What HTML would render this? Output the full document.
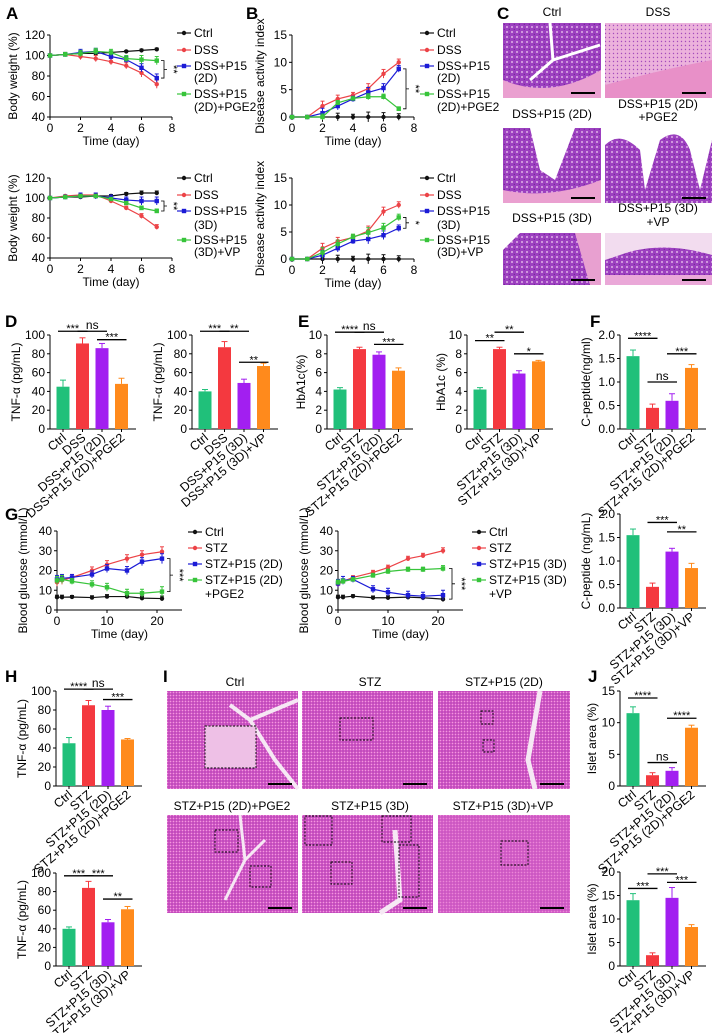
<!DOCTYPE html>
<html><head><meta charset="utf-8"><style>
html,body{margin:0;padding:0;background:#fff}
svg{display:block;font-family:"Liberation Sans",Arial,sans-serif}
</style></head><body>
<svg id="fig" width="715" height="1033" viewBox="0 0 715 1033" xmlns="http://www.w3.org/2000/svg">
<defs>
<pattern id="panc" width="3" height="3" patternUnits="userSpaceOnUse"><rect width="3" height="3" fill="#d65ac6"/><circle cx="1" cy="1" r="0.6" fill="#8a2ca8"/><rect x="2" y="2" width="1" height="1" fill="#ec9ee0"/></pattern>
<pattern id="colon" width="5" height="5" patternUnits="userSpaceOnUse"><rect width="5" height="5" fill="#9c40c0"/><circle cx="2" cy="2" r="1" fill="#e0b0e6"/><circle cx="4.3" cy="4.3" r="0.6" fill="#6a2090"/></pattern>
<pattern id="inflam" width="4" height="4" patternUnits="userSpaceOnUse"><rect width="4" height="4" fill="#ecb2dc"/><circle cx="1.5" cy="1.5" r="0.7" fill="#a54cbc"/></pattern>
</defs>
<g id="root"></g>
</svg>
<script>
// ===== Panel A data =====
const daysA = [0,1,2,3,4,5,6,7];
const a1Ctrl = [100,101,102,102,103,104,105,106];
const a1DSS = [100,101,99,97,94,90,83,72];
const a1P2D = [100,101,103,104,99,96,88,78];
const a1PGE2 = [100,101,102,104,103,97,96,95];
const a2Ctrl = [100,101,101,102,102,104,105,105];
const a2DSS = [100,102,103,103,97,90,82,71];
const a2P3D = [100,101,102,102,100,98,97,97];
const a2VP = [100,101,102,102,99,95,90,87];
const aErr = [1,2,3,3,3,3,4,4];
// ===== Panel B data =====
const b1Ctrl = [0,0,0,0,0,0,0,0];
const b1DSS = [0,0,2,3.3,4,5.2,7.9,10];
const b1P2D = [0,0,0.7,2,3.3,4.5,5.3,8.8];
const b1PGE2 = [0,0,0,2.6,3.4,3.7,3.7,1.5];
const b2Ctrl = [0,0,0,0,0,0,0,0];
const b2DSS = [0,0,2,3.3,4,5.2,8.8,10];
const b2P3D = [0,0,0.7,2,3.3,3.7,4.4,5.7];
const b2VP = [0,0,1.2,2.8,4.1,4.9,5.8,7.7];
const bErr = [0,0,0.9,0.7,0.5,0.9,0.8,0.6];
// ===== Panel G data =====
const daysG = [0,1,3,7,10,14,17,21];
const g1Ctrl = [6.5,6.5,6.6,6.3,6.8,6.8,6,5.8];
const g1STZ = [14,15,16.5,20,23,26,28,29.5];
const g1P2D = [15.5,16,16.5,18,21,20,24.5,26];
const g1PGE2 = [15,15.5,14.5,13,11.5,8.5,8.5,9.3];
const g2Ctrl = [6.5,6.5,7,6.2,6.2,6.5,6.2,5.5];
const g2STZ = [13,14.5,16.5,19,21.5,26,27.5,30];
const g2P3D = [13.5,15,15.5,10.5,9,7.5,7,7.5];
const g2VP = [14,14.5,15.5,17.5,19.5,20.5,20.5,21];
const gErr = [2,2,1.5,1.8,2,2,2,2.5];
// ===== Bar data =====
const d1Vals = [45,91,86,48], d1Err = [7,6,5,6];
const d2Vals = [40,87,49,67], d2Err = [2,6,4,3];
const e1Vals = [4.2,8.5,7.9,6.2], e1Err = [0.2,0.2,0.3,0.3];
const e2Vals = [4.2,8.5,5.9,7.2], e2Err = [0.2,0.2,0.3,0.1];
const f1Vals = [1.55,0.45,0.6,1.3], f1Err = [0.13,0.08,0.15,0.07];
const f2Vals = [1.55,0.45,1.2,0.85], f2Err = [0.13,0.08,0.07,0.1];
const h1Vals = [45,85,80,49], h1Err = [6,5,4,1];
const h2Vals = [40,84,47,61], h2Err = [2,7,3,3];
const j1Vals = [11.5,1.7,2.4,9.2], j1Err = [1,0.4,0.5,0.4];
const j2Vals = [14,2.3,14.5,8.3], j2Err = [1.4,0.5,2.2,0.5];
const dssLab2D = ["Ctrl","DSS","DSS+P15 (2D)","DSS+P15 (2D)+PGE2"];
const dssLab3D = ["Ctrl","DSS","DSS+P15 (3D)","DSS+P15 (3D)+VP"];
const stzLab2D = ["Ctrl","STZ","STZ+P15 (2D)","STZ+P15 (2D)+PGE2"];
const stzLab3D = ["Ctrl","STZ","STZ+P15 (3D)","STZ+P15 (3D)+VP"];
const ticks100 = [0,20,40,60,80,100];
const ticks10 = [0,2,4,6,8,10];
const ticks2 = ["0.0","0.5","1.0","1.5","2.0"];
const ticks15 = [0,5,10,15];
const ticks20 = [0,5,10,15,20];
const ticksBW = [40,60,80,100,120];
const ticksDAI = [0,5,10,15];
const ticksDay8 = [0,2,4,6,8];
const ticksGlu = [0,10,20,30,40];
const ticksDay21 = [0,10,20];

const NS="http://www.w3.org/2000/svg";
const root=document.getElementById('root');
function el(tag,attrs,parent,txt){const e=document.createElementNS(NS,tag);for(const k in attrs)e.setAttribute(k,attrs[k]);if(txt!==undefined)e.textContent=txt;(parent||root).appendChild(e);return e;}
const BARC=["#20c07a","#f4393f","#a21ff0","#ff8a1c"];
const LC={k:"#111",r:"#ec4347",b:"#1b1bd6",g:"#37c43a"};

function letter(t,x,y){const e=el('text',{x:x,y:y,'font-size':17,'font-weight':'bold',fill:'#000'},root,t);

}

function lineChart(c){
 const g=el('g',{});
 
 
 const sx=v=>c.x0+(v-c.xmin)/(c.xmax-c.xmin)*(c.x1-c.x0);
 const sy=v=>c.yb-(v-c.ymin)/(c.ymax-c.ymin)*(c.yb-c.yt);
 el('line',{x1:c.x0,y1:c.yb,x2:c.x1,y2:c.yb,stroke:'#000','stroke-width':1},g);
 el('line',{x1:c.x0,y1:c.yb,x2:c.x0,y2:c.yt,stroke:'#000','stroke-width':1},g);
 c.yticks.forEach(t=>{const y=sy(t);el('line',{x1:c.x0-3,y1:y,x2:c.x0,y2:y,stroke:'#000'},g);
  const tl=el('text',{x:c.x0-5,y:y+4,'font-size':12,'text-anchor':'end'},g,t);
  });
 c.xticks.forEach(t=>{const x=sx(t);el('line',{x1:x,y1:c.yb,x2:x,y2:c.yb+3,stroke:'#000'},g);
  const tl=el('text',{x:x,y:c.yb+15,'font-size':12,'text-anchor':'middle'},g,t);
  });
 const xt=el('text',{x:(c.x0+c.x1)/2,y:c.yb+28,'font-size':12,'text-anchor':'middle'},g,'Time (day)');
 
 const ym=(c.yb+c.yt)/2, yx=c.x0-c.ytOff;
 const yt=el('text',{x:yx,y:ym,'font-size':12,'text-anchor':'middle',transform:`rotate(-90 ${yx} ${ym})`},g,c.ytitle);
 
 c.series.forEach((s,si)=>{
  const pts=c.xs.map((x,i)=>sx(x)+','+sy(s.v[i])).join(' ');
  const pl=el('polyline',{points:pts,fill:'none',stroke:s.c,'stroke-width':1.2},g);
  
  c.xs.forEach((x,i)=>{const e=c.err[i]*(s.ef||1);const X=sx(x);
   if(e>0){el('line',{x1:X,y1:sy(s.v[i]-e),x2:X,y2:sy(s.v[i]+e),stroke:s.c,'stroke-width':1},g);
    el('line',{x1:X-2,y1:sy(s.v[i]+e),x2:X+2,y2:sy(s.v[i]+e),stroke:s.c},g);}
   const m=s.sq?el('rect',{x:X-2.2,y:sy(s.v[i])-2.2,width:4.4,height:4.4,fill:s.c},g):el('circle',{cx:X,cy:sy(s.v[i]),r:2.2,fill:s.c},g);
   });
 });
 c.legend.forEach((L,i)=>{
  const y=c.ly[i];
  if(L.c){el('line',{x1:c.lx,y1:y,x2:c.lx+14,y2:y,stroke:L.c,'stroke-width':1.2},g);
   if(L.sq)el('rect',{x:c.lx+4.8,y:y-2.2,width:4.4,height:4.4,fill:L.c},g);else el('circle',{cx:c.lx+7,cy:y,r:2.2,fill:L.c},g);}
  const lt=el('text',{x:c.lx+17,y:y+4,'font-size':12},g,L.t);
  
 });
 if(c.br){const b=c.br, y1=sy(b.a), y2=sy(b.b), x=b.x;
  el('path',{d:`M${x-3},${y1} L${x},${y1} L${x},${y2} L${x-3},${y2} M${x},${(y1+y2)/2} L${x+3},${(y1+y2)/2}`,fill:'none',stroke:'#000','stroke-width':0.8},g);
  const my=(y1+y2)/2;
  const st=el('text',{x:x+6,y:my,'font-size':11,'text-anchor':'middle',transform:`rotate(90 ${x+6} ${my})`},g,b.t);
  }
}

function barChart(c){
 const g=el('g',{});
 
 
 const sy=v=>c.yb-v/c.ymax*(c.yb-c.yt);
 const bx=i=>c.x0+13+i*19.5;
 el('line',{x1:c.x0,y1:c.yb,x2:c.x0+86,y2:c.yb,stroke:'#000'},g);
 el('line',{x1:c.x0,y1:c.yb,x2:c.x0,y2:c.yt,stroke:'#000'},g);
 c.yticks.forEach(t=>{const y=sy(parseFloat(t));el('line',{x1:c.x0-3,y1:y,x2:c.x0,y2:y,stroke:'#000'},g);
  const tl=el('text',{x:c.x0-5,y:y+4,'font-size':12,'text-anchor':'end'},g,t);
  });
 const ym=(c.yb+c.yt)/2,yx=c.x0-c.ytOff;
 const yt=el('text',{x:yx,y:ym,'font-size':12,'text-anchor':'middle',transform:`rotate(-90 ${yx} ${ym})`},g,c.ytitle);
 
 c.vals.forEach((v,i)=>{const X=bx(i);
  const r=el('rect',{x:X-6.5,y:sy(v),width:13,height:c.yb-sy(v),fill:BARC[i]},g);
  
  
  const ey=sy(v+c.err[i]);
  el('line',{x1:X,y1:sy(v),x2:X,y2:ey,stroke:BARC[i],'stroke-width':1},g);
  el('line',{x1:X-3,y1:ey,x2:X+3,y2:ey,stroke:BARC[i],'stroke-width':1},g);
  el('line',{x1:X,y1:c.yb,x2:X,y2:c.yb+3,stroke:'#000'},g);
  const lx=X+4,ly=c.yb+10;
  const t=el('text',{x:lx,y:ly,'font-size':12.5,'text-anchor':'end',transform:`rotate(-40 ${lx} ${ly})`},g,c.labels[i]);
  
 });
 c.sig.forEach(s=>{const y=sy(s[3]);const xa=bx(s[0])-5,xb=bx(s[1])+5;
  el('line',{x1:xa,y1:y,x2:xb,y2:y,stroke:'#000','stroke-width':1.3},g);
  const t=el('text',{x:(xa+xb)/2,y:s[2]=='ns'?y-2:y+1,'font-size':s[2]=='ns'?12:11,'text-anchor':'middle'},g,s[2]);
  });
}

letter('A',6,19);letter('B',246,19);letter('C',497,19);letter('D',5,327);letter('E',298,327);
letter('F',590,327);letter('G',5,520);letter('H',5,682);letter('I',163,682);letter('J',588,682);

const legA1=[{t:'Ctrl',c:LC.k},{t:'DSS',c:LC.r},{t:'DSS+P15',c:LC.b,sq:1},{t:'(2D)'},{t:'DSS+P15',c:LC.g,sq:1},{t:'(2D)+PGE2'}];
const legA2=[{t:'Ctrl',c:LC.k},{t:'DSS',c:LC.r},{t:'DSS+P15',c:LC.b,sq:1},{t:'(3D)'},{t:'DSS+P15',c:LC.g,sq:1},{t:'(3D)+VP'}];
const lyTop=[33,50,66,78,94,107], lyBot=[178,195,211,225,240,252];
lineChart({name:'body-weight-chart-2d',x0:50,x1:172,xmin:0,xmax:8,yb:117,yt:35,ymin:40,ymax:120,xticks:ticksDay8,yticks:ticksBW,xs:daysA,err:aErr,ytitle:'Body weight (%)',ytOff:33,
 series:[{n:'ctrl',v:a1Ctrl,c:LC.k,ef:0.3},{n:'dss',v:a1DSS,c:LC.r},{n:'dss-p15-2d',v:a1P2D,c:LC.b,sq:1},{n:'dss-p15-2d-pge2',v:a1PGE2,c:LC.g,sq:1}],
 legend:legA1,lx:177,ly:lyTop,br:{a:95,b:78,x:164,t:'**'}});
lineChart({name:'body-weight-chart-3d',x0:50,x1:172,xmin:0,xmax:8,yb:258,yt:178,ymin:40,ymax:120,xticks:ticksDay8,yticks:ticksBW,xs:daysA,err:aErr,ytitle:'Body weight (%)',ytOff:33,
 series:[{n:'ctrl',v:a2Ctrl,c:LC.k,ef:0.5},{n:'dss',v:a2DSS,c:LC.r,ef:0.6},{n:'dss-p15-3d',v:a2P3D,c:LC.b,sq:1},{n:'dss-p15-3d-vp',v:a2VP,c:LC.g,sq:1,ef:0.5}],
 legend:legA2,lx:177,ly:lyBot,br:{a:97,b:87,x:164,t:'**'}});
lineChart({name:'dai-chart-2d',x0:292,x1:414,xmin:0,xmax:8,yb:117,yt:35,ymin:0,ymax:15,xticks:ticksDay8,yticks:ticksDAI,xs:daysA,err:bErr,ytitle:'Disease activity index',ytOff:28,
 series:[{n:'ctrl',v:b1Ctrl,c:LC.k,ef:0},{n:'dss',v:b1DSS,c:LC.r},{n:'dss-p15-2d',v:b1P2D,c:LC.b,sq:1},{n:'dss-p15-2d-pge2',v:b1PGE2,c:LC.g,sq:1,ef:0.6}],
 legend:legA1,lx:420,ly:lyTop,br:{a:8.8,b:1.5,x:406,t:'**'}});
lineChart({name:'dai-chart-3d',x0:292,x1:414,xmin:0,xmax:8,yb:259,yt:178,ymin:0,ymax:15,xticks:ticksDay8,yticks:ticksDAI,xs:daysA,err:bErr,ytitle:'Disease activity index',ytOff:28,
 series:[{n:'ctrl',v:b2Ctrl,c:LC.k,ef:0},{n:'dss',v:b2DSS,c:LC.r},{n:'dss-p15-3d',v:b2P3D,c:LC.b,sq:1},{n:'dss-p15-3d-vp',v:b2VP,c:LC.g,sq:1}],
 legend:legA2,lx:420,ly:lyBot,br:{a:7.7,b:5.7,x:406,t:'*'}});
const legG1=[{t:'Ctrl',c:LC.k},{t:'STZ',c:LC.r},{t:'STZ+P15 (2D)',c:LC.b,sq:1},{t:'STZ+P15 (2D)',c:LC.g,sq:1},{t:'+PGE2'}];
const legG2=[{t:'Ctrl',c:LC.k},{t:'STZ',c:LC.r},{t:'STZ+P15 (3D)',c:LC.b,sq:1},{t:'STZ+P15 (3D)',c:LC.g,sq:1},{t:'+VP'}];
const lyG=[532,548,564,580,594];
lineChart({name:'blood-glucose-chart-2d',x0:57,x1:182,xmin:0,xmax:25,yb:610,yt:531,ymin:0,ymax:40,xticks:ticksDay21,yticks:ticksGlu,xs:daysG,err:gErr,ytitle:'Blood glucose (mmol/L)',ytOff:30,
 series:[{n:'ctrl',v:g1Ctrl,c:LC.k,ef:0.5},{n:'stz',v:g1STZ,c:LC.r},{n:'stz-p15-2d',v:g1P2D,c:LC.b,sq:1},{n:'stz-p15-2d-pge2',v:g1PGE2,c:LC.g,sq:1}],
 legend:legG1,lx:188,ly:lyG,br:{a:26,b:9.3,x:170,t:'***'}});
lineChart({name:'blood-glucose-chart-3d',x0:338,x1:463,xmin:0,xmax:25,yb:610,yt:531,ymin:0,ymax:40,xticks:ticksDay21,yticks:ticksGlu,xs:daysG,err:gErr,ytitle:'Blood glucose (mmol/L)',ytOff:30,
 series:[{n:'ctrl',v:g2Ctrl,c:LC.k,ef:0.5},{n:'stz',v:g2STZ,c:LC.r,ef:0.6},{n:'stz-p15-3d',v:g2P3D,c:LC.b,sq:1},{n:'stz-p15-3d-vp',v:g2VP,c:LC.g,sq:1,ef:0.6}],
 legend:legG2,lx:472,ly:lyG,br:{a:21,b:5.5,x:452,t:'***'}});

barChart({name:'tnf-dss-2d',x0:50,yb:429,yt:335,ymax:100,yticks:ticks100,vals:d1Vals,err:d1Err,labels:dssLab2D,ytitle:'TNF-α (pg/mL)',ytOff:30,sig:[[0,1,'***',104],[1,2,'ns',104],[2,3,'***',95]]});
barChart({name:'tnf-dss-3d',x0:192,yb:429,yt:335,ymax:100,yticks:ticks100,vals:d2Vals,err:d2Err,labels:dssLab3D,ytitle:'TNF-α (pg/mL)',ytOff:30,sig:[[0,1,'***',104],[1,2,'**',104],[2,3,'**',71]]});
barChart({name:'hba1c-2d',x0:327,yb:429,yt:335,ymax:10,yticks:ticks10,vals:e1Vals,err:e1Err,labels:stzLab2D,ytitle:'HbA1c(%)',ytOff:22,sig:[[0,1,'****',10.3],[1,2,'ns',10.3],[2,3,'***',9]]});
barChart({name:'hba1c-3d',x0:467,yb:429,yt:335,ymax:10,yticks:ticks10,vals:e2Vals,err:e2Err,labels:stzLab3D,ytitle:'HbA1c (%)',ytOff:22,sig:[[0,1,'**',9.4],[1,2,'**',10.3],[2,3,'*',8]]});
barChart({name:'c-peptide-2d',x0:620,yb:429,yt:335,ymax:2,yticks:ticks2,vals:f1Vals,err:f1Err,labels:stzLab2D,ytitle:'C-peptide(ng/ml)',ytOff:30,sig:[[0,1,'****',1.93],[1,2,'ns',1.0],[2,3,'***',1.6]]});
barChart({name:'c-peptide-3d',x0:620,yb:608,yt:514,ymax:2,yticks:ticks2,vals:f2Vals,err:f2Err,labels:stzLab3D,ytitle:'C-peptide (ng/mL)',ytOff:30,sig:[[1,2,'***',1.82],[2,3,'**',1.62]]});
barChart({name:'tnf-stz-2d',x0:56,yb:786,yt:691,ymax:100,yticks:ticks100,vals:h1Vals,err:h1Err,labels:stzLab2D,ytitle:'TNF-α (pg/mL)',ytOff:30,sig:[[0,1,'****',102],[1,2,'ns',102],[2,3,'***',91]]});
barChart({name:'tnf-stz-3d',x0:56,yb:966,yt:873,ymax:100,yticks:ticks100,vals:h2Vals,err:h2Err,labels:stzLab3D,ytitle:'TNF-α (pg/mL)',ytOff:30,sig:[[0,1,'***',97],[1,2,'***',97],[2,3,'**',72]]});
barChart({name:'islet-area-2d',x0:620,yb:786,yt:691,ymax:15,yticks:ticks15,vals:j1Vals,err:j1Err,labels:stzLab2D,ytitle:'Islet area (%)',ytOff:24,sig:[[0,1,'****',13.9],[1,2,'ns',3.7],[2,3,'****',10.7]]});
barChart({name:'islet-area-3d',x0:620,yb:966,yt:872,ymax:20,yticks:ticks20,vals:j2Vals,err:j2Err,labels:stzLab3D,ytitle:'Islet area (%)',ytOff:24,sig:[[0,1,'***',16.5],[1,2,'***',19.6],[2,3,'***',17.8]]});

function img(name,x,y,w,h,fill,extra){const g=el('g',{});
 
 el('rect',{x:x,y:y,width:w,height:h,fill:fill},g);
 (extra||[]).forEach(e=>el(e[0],Object.assign({},e[1]),g));
 el('line',{x1:x+w-30,y1:y+h-5,x2:x+w-6,y2:y+h-5,stroke:'#000','stroke-width':2},g);
 return g;}
function lab(t,x,y){const e=el('text',{x:x,y:y,'font-size':12,'text-anchor':'middle'},root,t);
 }
lab('Ctrl',552,16);lab('DSS',658,16);
img('colon-ctrl',503,23,98,75,'url(#colon)',[['path',{d:'M503,80 Q550,100 601,70 L601,98 L503,98Z',fill:'#eaa0d0'}],['path',{d:'M550,23 L553,60 L600,45 M553,60 L530,80',stroke:'#fff',fill:'none','stroke-width':3}]]);
img('colon-dss',605,23,107,75,'url(#inflam)',[['path',{d:'M605,85 Q660,70 712,60 L712,98 L605,98Z',fill:'#e890c8'}]]);
lab('DSS+P15 (2D)',552,118);lab('DSS+P15 (2D)',658,108);lab('+PGE2',658,121);
img('colon-p15-2d',503,128,98,75,'url(#colon)',[['path',{d:'M530,128 L540,170 L555,180 L575,128Z',fill:'#fff'}],['path',{d:'M503,190 Q550,200 601,180 L601,203 L503,203Z',fill:'#eaa0d0'}]]);
img('colon-p15-2d-pge2',605,128,107,75,'#fff',[['path',{d:'M605,145 Q620,130 640,150 L645,190 L660,140 Q680,125 690,150 L700,190 L712,140 L712,203 L605,203Z',fill:'url(#colon)'}]]);
lab('DSS+P15 (3D)',552,222);lab('DSS+P15 (3D)',658,212);lab('+VP',658,226);
img('colon-p15-3d',503,233,98,52,'url(#colon)',[['path',{d:'M503,233 L520,233 L503,250Z',fill:'#fff'}],['path',{d:'M575,233 L601,233 L601,285 L590,285Z',fill:'#e8a0d0'}]]);
img('colon-p15-3d-vp',605,233,107,52,'#f2dcef',[['path',{d:'M620,255 Q660,240 712,255 L712,285 L605,285 L605,260Z',fill:'url(#colon)'}],['path',{d:'M605,275 L712,275 L712,285 L605,285Z',fill:'#eaa8d8'}]]);

const dash={fill:'none',stroke:'#000','stroke-width':0.9,'stroke-dasharray':'2,1.5'};
lab('Ctrl',235,686);lab('STZ',370,686);lab('STZ+P15 (2D)',504,686);
img('pancreas-ctrl',167,691,131,98,'url(#panc)',[['path',{d:'M230,705 L250,720 L298,700 M250,720 L275,760 L298,789',stroke:'#f6e8f4',fill:'none','stroke-width':4}],['rect',Object.assign({x:205,y:726,width:51,height:42,fill:'#eec0e6'})],['rect',Object.assign({x:205,y:726,width:51,height:42},dash)]]);
img('pancreas-stz',302,691,131,98,'url(#panc)',[['rect',Object.assign({x:340,y:718,width:33,height:22},dash)]]);
img('pancreas-p15-2d',438,691,132,98,'url(#panc)',[['path',{d:'M540,691 L528,760 L535,789',stroke:'#f6e8f4',fill:'none','stroke-width':5}],['rect',Object.assign({x:481,y:711,width:12,height:13},dash)],['rect',Object.assign({x:483,y:740,width:11,height:12},dash)]]);
lab('STZ+P15 (2D)+PGE2',232,810);lab('STZ+P15 (3D)',370,810);lab('STZ+P15 (3D)+VP',503,810);
img('pancreas-p15-2d-pge2',167,815,131,98,'url(#panc)',[['path',{d:'M240,815 L245,860 L225,900 M245,860 L265,840',stroke:'#f6e8f4',fill:'none','stroke-width':3}],['rect',Object.assign({x:215,y:830,width:23,height:22},dash)],['rect',Object.assign({x:250,y:866,width:21,height:21},dash)]]);
img('pancreas-p15-3d',302,815,131,98,'url(#panc)',[['path',{d:'M395,830 L400,900 L380,913',stroke:'#f6e8f4',fill:'none','stroke-width':5}],['rect',Object.assign({x:305,y:816,width:27,height:29},dash)],['rect',Object.assign({x:382,y:816,width:29,height:26},dash)],['rect',Object.assign({x:399,y:845,width:20,height:52},dash)],['rect',Object.assign({x:331,y:862,width:21,height:22},dash)]]);
img('pancreas-p15-3d-vp',438,815,132,98,'#dc6ccc',[['rect',{x:438,y:815,width:132,height:98,fill:'url(#panc)',opacity:0.6}],['rect',Object.assign({x:501,y:841,width:27,height:24},dash)]]);
</script>
</body></html>
